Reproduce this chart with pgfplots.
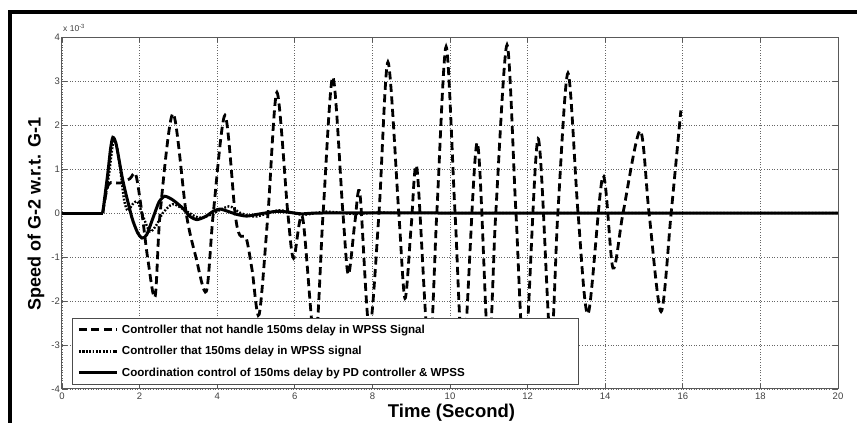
\documentclass[border=0pt]{standalone}
\usepackage{fontspec}
\setmainfont{Liberation Sans}
\usepackage{pgfplots}
\pgfplotsset{compat=1.18}

\begin{document}
\begin{tikzpicture}
\begin{axis}[
  name=ax, at={(0,0)}, anchor=south west,
  scale only axis, width=776pt, height=352pt,
  xmin=0, xmax=20, ymin=-4, ymax=4,
  xtick={0,2,...,20}, ytick={-4,-3,...,4},
  /pgf/number format/assume math mode=true,
  ticklabel style={font=\fontsize{9.5}{10}\selectfont, text=black!75},
  yticklabel style={inner sep=2pt},
  tick align=inside, major tick length=5pt,
  tick style={black!65, line width=0.9pt},
  axis line style={black!65, line width=1pt},
  grid=major,
  grid style={black!60, line width=0.7pt, dash pattern=on 1pt off 1.6pt},
  xlabel={\bfseries Time (Second)},
  ylabel={\bfseries Speed of G-2 w.r.t. G-1},
  xlabel style={font=\fontsize{18.5}{20}\selectfont, at={(axis description cs:0.502,-0.066)}, anchor=center},
  ylabel style={font=\fontsize{18}{20}\selectfont, at={(axis description cs:-0.0335,0.497)}, anchor=center},
  legend cell align=left,
  legend image code/.code={\draw[mark repeat=2,mark phase=2] plot coordinates {(0pt,0pt) (19pt,0pt) (38pt,0pt)};},
  legend style={at={(axis description cs:0.0129,0.0114)}, anchor=south west,
    draw=black!70, line width=0.8pt, fill=white, inner sep=5pt,
    font=\bfseries\fontsize{11.6}{12}\selectfont,
    row sep=8pt, column sep=2pt,
    nodes={inner sep=1.5pt, text height=8.5pt, text depth=2pt}},
]
% no delay handling
\addplot[black, line width=2.8pt, dash pattern=on 8pt off 4.5pt, forget plot] coordinates {(0,0) (0.5,0) (1.05,0)};
\addplot[black, line width=2.8pt, dash pattern=on 8pt off 4.5pt, smooth, tension=0.5] coordinates {
(1.05,0) (1.2,0.65) (1.5,0.68) (1.75,0.78) (1.9,0.88)
(2.06,0.0) (2.22,-1.1) (2.4,-1.9) (2.53,0.0) (2.86,2.26) (3.2,0.0) (3.45,-1.0)
(3.72,-1.78) (3.9,0.0) (4.2,2.22) (4.46,0.0) (4.58,-0.5) (4.75,-0.58) (4.9,-1.3)
(5.08,-2.31) (5.31,0.0) (5.54,2.74) (5.82,0.0) (5.97,-1.03) (6.2,-0.1) (6.52,-3.0)
(6.73,0.0) (6.98,3.09) (7.24,0.0) (7.38,-1.4) (7.55,-0.2) (7.68,0.43) (7.92,-2.65)
(8.17,0.0) (8.40,3.43) (8.68,0.0) (8.84,-1.94) (9.0,-0.3) (9.15,1.0) (9.46,-3.3)
(9.66,0.0) (9.90,3.78) (10.13,0.0) (10.35,-3.3) (10.7,1.6) (10.99,-3.2) (11.18,0.0)
(11.47,3.82) (11.7,0.0) (11.93,-3.4) (12.27,1.69) (12.59,-3.0) (12.78,0.0)
(13.04,3.18) (13.3,0.0) (13.56,-2.29) (13.94,0.84) (14.2,-1.25) (14.46,0.0)
(14.9,1.87) (15.13,0.0) (15.44,-2.24) (15.7,0.0) (15.95,2.33)
};
\addlegendentry{Controller that not handle 150ms delay in WPSS Signal}
% delay, no compensation
\addplot[black, line width=2.4pt, dash pattern=on 1.8pt off 1.6pt, forget plot] coordinates {(0,0) (0.5,0) (1.05,0)};
\addplot[black, line width=2.4pt, dash pattern=on 1.8pt off 1.6pt, smooth, tension=0.5] coordinates {
(1.05,0) (1.2,0.8) (1.34,1.68) (1.47,1.2) (1.6,0.3) (1.7,0.05)
(1.82,0.2) (1.95,0.25) (2.1,-0.1) (2.27,-0.42) (2.45,-0.25) (2.6,0.0) (2.85,0.2)
(3.1,0.1) (3.5,-0.1) (3.8,-0.05) (4.3,0.15) (4.6,0.0) (5.0,-0.08) (5.6,0.06)
(6.2,-0.04) (6.8,0.03) (7.5,-0.02) (8.2,0.01) (9,0) (14,0) (20,0)
};
\addlegendentry{Controller that 150ms delay in WPSS signal}
% PD + WPSS coordination
\addplot[black, line width=3pt, forget plot] coordinates {(0,0) (0.5,0) (1.05,0)};
\addplot[black, line width=3pt, smooth, tension=0.4] coordinates {
(1.05,0) (1.18,0.9) (1.25,1.45) (1.31,1.72) (1.4,1.55) (1.57,0.73)
(1.8,-0.1) (1.95,-0.45) (2.06,-0.57) (2.18,-0.5) (2.35,-0.1) (2.5,0.25) (2.65,0.38)
(2.85,0.3) (3.1,0.12) (3.3,-0.08) (3.48,-0.15) (3.7,-0.08) (3.9,0.04) (4.07,0.09)
(4.3,0.03) (4.5,-0.03) (4.76,-0.07) (5.1,-0.02) (5.56,0.04) (5.9,0.01) (6.2,-0.02)
(6.7,0) (10,0) (15,0) (20,0)
};
\addlegendentry{Coordination control of 150ms delay by PD controller \& WPSS\hspace*{107pt}}
\end{axis}
\node[anchor=south west, inner sep=0pt, text=black!75, font=\fontsize{8.5}{9}\selectfont]
  at (1pt,357pt) {x 10\textsuperscript{-3}};
\draw[line width=3.5pt] (-52pt,-40pt) -- (-52pt,377pt) -- (800pt,377pt);
\pgfresetboundingbox
\path[use as bounding box] (-62pt,-34pt) rectangle (795pt,389pt);
\end{tikzpicture}
\end{document}
